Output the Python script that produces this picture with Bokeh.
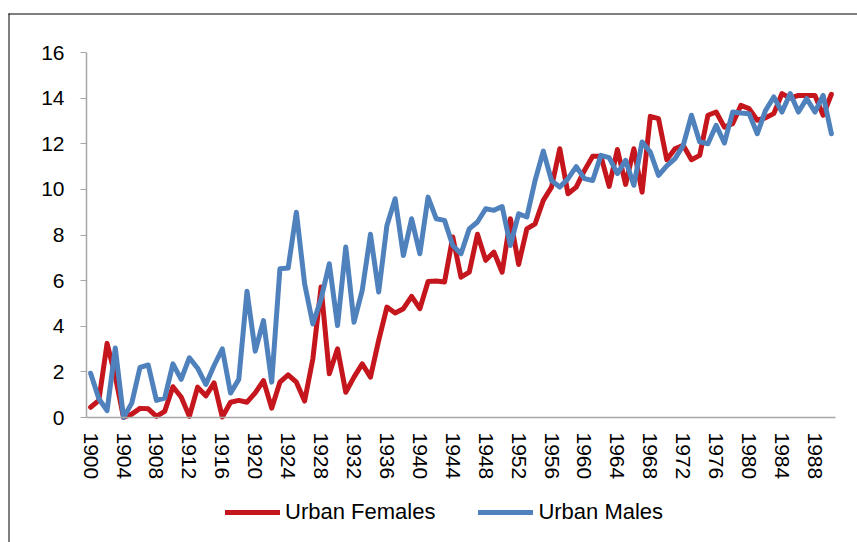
from bokeh.plotting import figure
from bokeh.models import FixedTicker, Legend, LegendItem, Range1d, BoxAnnotation
from bokeh.embed import file_html
from bokeh.resources import INLINE

years = list(range(1900, 1991))

urban_females = [
    0.45, 0.75, 3.25, 1.8, 0.0, 0.15, 0.4, 0.38, 0.05, 0.27,
    1.35, 0.9, 0.05, 1.33, 0.95, 1.52, 0.02, 0.67, 0.75, 0.67,
    1.08, 1.62, 0.41, 1.55, 1.87, 1.55, 0.72, 2.57, 5.72, 1.92,
    3.01, 1.11, 1.77, 2.35, 1.77, 3.38, 4.84, 4.58, 4.77, 5.31,
    4.77, 5.96, 5.98, 5.94, 7.91, 6.15, 6.37, 8.03, 6.89, 7.25,
    6.37, 8.71, 6.71, 8.27, 8.49, 9.52, 10.1, 11.78, 9.81, 10.1,
    10.83, 11.45, 11.45, 10.13, 11.75, 10.22, 11.78, 9.88, 13.2, 13.1,
    11.3, 11.78, 11.93, 11.3, 11.49, 13.25, 13.39, 12.73, 12.88, 13.68,
    13.54, 13.03, 13.14, 13.32, 14.2, 14.0, 14.12, 14.12, 14.12, 13.25, 14.17,
]

urban_males = [
    1.94, 0.82, 0.3, 3.05, 0.0, 0.63, 2.2, 2.3, 0.75, 0.85,
    2.35, 1.67, 2.62, 2.16, 1.45, 2.28, 3.01, 1.07, 1.67, 5.53,
    2.91, 4.25, 1.55, 6.52, 6.55, 9.0, 5.86, 4.1, 5.2, 6.74,
    4.03, 7.47, 4.18, 5.57, 8.03, 5.5, 8.42, 9.59, 7.1, 8.71,
    7.18, 9.66, 8.71, 8.64, 7.54, 7.18, 8.27, 8.57, 9.15, 9.08,
    9.25, 7.54, 8.93, 8.79, 10.39, 11.68, 10.39, 10.1, 10.47, 11.0,
    10.47, 10.39, 11.49, 11.39, 10.69, 11.27, 10.18, 12.08, 11.64, 10.61,
    11.03, 11.35, 11.93, 13.25, 12.08, 12.0, 12.81, 12.03, 13.39, 13.35,
    13.32, 12.44, 13.46, 14.05, 13.39, 14.2, 13.39, 13.98, 13.39, 14.12, 12.44,
]

x_ticks = list(range(1900, 1989, 4))
y_ticks = [0, 2, 4, 6, 8, 10, 12, 14, 16]
series_names = ["Urban Females", "Urban Males"]
series_colors = ["#C4161C", "#4F81BD"]

FONT = "Liberation Sans"

# page layout (pixels): canvas fills the whole picture; plot area placed inside
W, H = 857, 542
AX_LEFT, AX_RIGHT = 86, 835     # pixel span of 1899.5 .. 1990.5
AX_TOP, AX_ZERO = 52, 417       # pixel rows of y=16 and y=0
BORDER_X, BORDER_Y = 8, 13      # outer chart border (left / top edges)
x_lo, x_hi = years[0] - 0.5, years[-1] + 0.5
y_lo, y_hi = y_ticks[0], y_ticks[-1]
ppx = (AX_RIGHT - AX_LEFT) / (x_hi - x_lo)
ppy = (AX_ZERO - AX_TOP) / (y_hi - y_lo)
xr = Range1d(x_lo - AX_LEFT / ppx, x_lo + (W - AX_LEFT) / ppx)
yr = Range1d(y_lo - (H - AX_ZERO) / ppy, y_hi + AX_TOP / ppy)


def px_x(px):
    return xr.start + px / ppx


def px_y(py):
    return yr.end - py / ppy


p = figure(width=W, height=H, output_backend="svg", toolbar_location=None,
           x_range=xr, y_range=yr, min_border=0)
p.outline_line_color = None
p.xgrid.visible = False
p.ygrid.visible = False
p.background_fill_color = "white"
p.border_fill_color = "white"

# outer chart border: thin filled strips along the top and left edges
p.add_layout(BoxAnnotation(left=px_x(BORDER_X), right=px_x(BORDER_X + 1),
                           top=px_y(BORDER_Y), bottom=px_y(H + 20),
                           fill_color="black", fill_alpha=1, line_alpha=0,
                           level="underlay"))
p.add_layout(BoxAnnotation(left=px_x(BORDER_X), right=px_x(W + 20),
                           top=px_y(BORDER_Y), bottom=px_y(BORDER_Y + 1),
                           fill_color="black", fill_alpha=1, line_alpha=0,
                           level="underlay"))

r_f = p.line(years, urban_females, line_color=series_colors[0], line_width=5,
             line_join="round", line_cap="round")
r_m = p.line(years, urban_males, line_color=series_colors[1], line_width=5,
             line_join="round", line_cap="round")

xa = p.xaxis[0]
xa.fixed_location = 0
xa.bounds = (x_lo, x_hi)
xa.ticker = FixedTicker(ticks=x_ticks)
xa.major_label_overrides = {t: str(t) for t in x_ticks}
xa.major_label_orientation = "vertical"
xa.major_tick_out = 0
xa.major_tick_in = 0
xa.minor_tick_out = 0
xa.minor_tick_in = 0
xa.axis_line_color = "#A6A6A6"
xa.axis_line_width = 1.5
xa.major_label_text_font = FONT
xa.major_label_text_font_size = "21px"
xa.major_label_text_color = "black"
xa.major_label_standoff = 15

ya = p.yaxis[0]
ya.fixed_location = x_lo
ya.bounds = (y_lo, y_hi)
ya.ticker = FixedTicker(ticks=y_ticks)
ya.major_tick_out = 6
ya.major_tick_in = 0
ya.minor_tick_out = 0
ya.minor_tick_in = 0
ya.axis_line_color = "#A6A6A6"
ya.major_tick_line_color = "#A6A6A6"
ya.axis_line_width = 1.5
ya.major_label_text_font = FONT
ya.major_label_text_font_size = "21px"
ya.major_label_text_color = "black"
ya.major_label_standoff = 16

legend = Legend(items=[LegendItem(label=series_names[0], renderers=[r_f]),
                       LegendItem(label=series_names[1], renderers=[r_m])],
                orientation="horizontal", location=(225, 17))
legend.border_line_color = None
legend.background_fill_alpha = 0
legend.label_text_font = FONT
legend.label_text_font_size = "22px"
legend.label_text_color = "black"
legend.glyph_width = 55
legend.label_standoff = 5
legend.spacing = 43
legend.padding = 6
legend.margin = 0
p.add_layout(legend, "center")

open("out.html", "w").write(file_html(p, INLINE))
